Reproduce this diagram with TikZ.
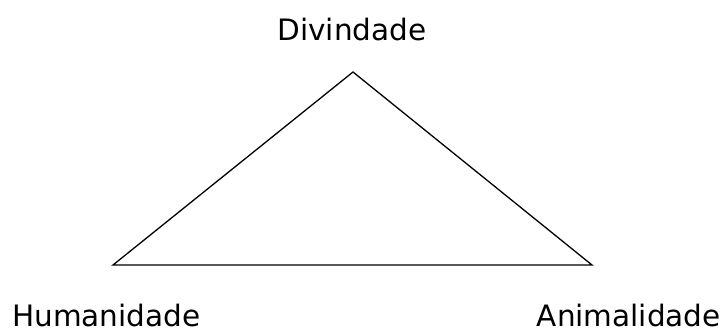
\documentclass[tikz,border=0pt]{standalone}
\usepackage{fontspec}
\setmainfont{DejaVu Sans}
\begin{document}
\begin{tikzpicture}[x=1pt,y=1pt,
  lbl/.style={inner sep=0pt,font=\fontsize{29.5}{35}\selectfont},
  edge/.style={line width=1.3pt,black}]
\useasboundingbox (0,0) rectangle (726,333);
\coordinate (top) at (353,261);
\coordinate (left) at (113,68);
\coordinate (right) at (592,68);
\draw[edge,line join=miter] (top) -- (left) -- (right) -- cycle;
\node[lbl,anchor=base] (div) at (352,293) {Divindade};
\node[lbl,anchor=base west] (hum) at (12,6.5) {Humanidade};
\node[lbl,anchor=base east] (ani) at (721,6.5) {Animalidade};
\end{tikzpicture}
\end{document}
